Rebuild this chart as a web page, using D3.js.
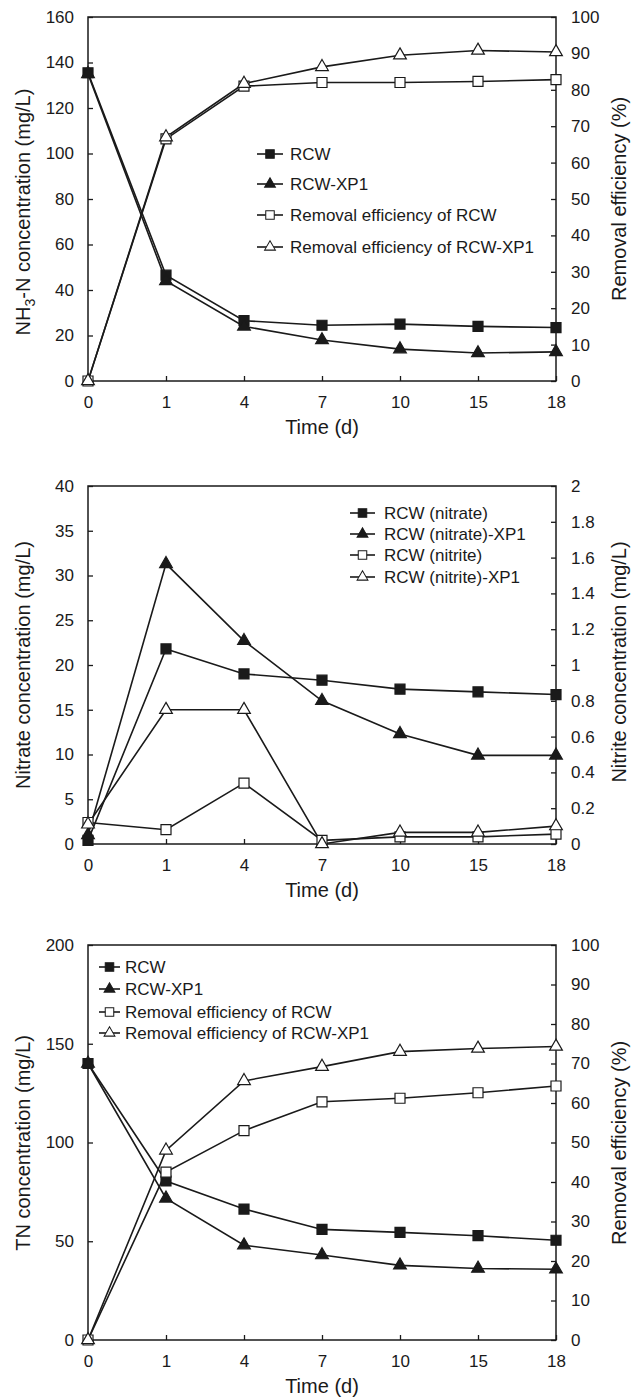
<!DOCTYPE html>
<html>
<head>
  <meta charset="UTF-8">
  <style>
    body { margin: 0; background: #fff; }
    svg text { font-family: "Liberation Sans", Arial, sans-serif; fill: #1a1a1a; }
  </style>
</head>
<body>
<svg></svg>
<script src="https://d3js.org/d3.v7.min.js"></script>
<script>
let width = 638,
    height = 1398;

let svg = d3.select("svg")
    .attr("width", width)
    .attr("height", height);

// sampling days (categorical, equally spaced)
let days = ["0", "1", "4", "7", "10", "15", "18"];

// panel 1: NH3-N
let nh3RCW = [135.5, 46.5, 26.5, 24.5, 25, 24, 23.5];
let nh3XP1 = [135, 44, 24, 18, 14, 12.3, 12.8];
let nh3EffRCW = [0, 66.5, 81, 82, 82, 82.3, 82.8];
let nh3EffXP1 = [0, 67, 81.7, 86.3, 89.5, 90.8, 90.4];

// panel 2: nitrate / nitrite
let nitrateRCW = [0.4, 21.8, 19, 18.3, 17.3, 17, 16.7];
let nitrateXP1 = [1, 31.3, 22.7, 16, 12.3, 9.9, 9.9];
let nitriteRCW = [0.12, 0.08, 0.34, 0.02, 0.04, 0.04, 0.055];
let nitriteXP1 = [0.11, 0.75, 0.75, 0, 0.065, 0.065, 0.1];

// panel 3: TN
let tnRCW = [140, 80.5, 66.3, 56, 54.5, 52.8, 50.5];
let tnXP1 = [140, 71.7, 48, 43, 37.8, 36.2, 35.8];
let tnEffRCW = [0, 42.5, 53, 60.3, 61.2, 62.6, 64.3];
let tnEffXP1 = [0, 48, 65.6, 69.2, 73, 73.8, 74.3];

// tick values
let nh3Ticks = d3.range(0, 161, 20);
let effTicks = d3.range(0, 101, 10);
let nitrateTicks = d3.range(0, 41, 5);
let nitriteTicks = d3.range(0, 2.01, 0.2).map(d => +d.toFixed(1));
let tnTicks = d3.range(0, 201, 50);

let ink = "#1a1a1a";
let fs = 17;      // ticks + legend
let titleFs = 20; // axis titles

function marker(type) {
  let sym = type.indexOf("square") >= 0 ? d3.symbolSquare : d3.symbolTriangle;
  let size = type.indexOf("square") >= 0 ? 100 : 70;
  return d3.symbol().type(sym).size(size)();
}

function drawPanel(p) {
  let g = svg.append("g");

  let x = d3.scalePoint().domain(days).range([88, 556]);
  let yL = d3.scaleLinear().domain(p.leftDomain).range([p.bottom, p.top]);
  let yR = d3.scaleLinear().domain(p.rightDomain).range([p.bottom, p.top]);

  // frame
  g.append("rect")
    .attr("x", 88).attr("y", p.top)
    .attr("width", 556 - 88).attr("height", p.bottom - p.top)
    .attr("fill", "none").attr("stroke", ink).attr("stroke-width", 1.5);

  let axisStyle = sel => {
    sel.select(".domain").remove();
    sel.selectAll("line").attr("stroke", ink).attr("stroke-width", 1.3);
    sel.selectAll("text").attr("font-size", fs).attr("fill", ink)
      .style("font-family", "'Liberation Sans', Arial, sans-serif");
  };

  g.append("g")
    .attr("transform", "translate(0," + p.bottom + ")")
    .call(d3.axisBottom(x).tickSizeInner(-5).tickSizeOuter(0).tickPadding(15))
    .call(axisStyle);

  g.append("g")
    .attr("transform", "translate(88,0)")
    .call(d3.axisLeft(yL).tickValues(p.leftTicks).tickSizeInner(-5).tickSizeOuter(0).tickPadding(14))
    .call(axisStyle);

  g.append("g")
    .attr("transform", "translate(556,0)")
    .call(d3.axisRight(yR).tickValues(p.rightTicks).tickFormat(d3.format("~g"))
      .tickSizeInner(-5).tickSizeOuter(0).tickPadding(15))
    .call(axisStyle);

  // axis titles
  g.append("text")
    .attr("x", 322).attr("y", p.bottom + 53)
    .attr("text-anchor", "middle").attr("font-size", titleFs)
    .text("Time (d)");

  let lt = g.append("text")
    .attr("transform", "translate(30," + p.leftTitleY + ") rotate(-90)")
    .attr("text-anchor", "middle").attr("font-size", titleFs);
  p.leftTitle.forEach(part => {
    let t = lt.append("tspan").text(part.t);
    if (part.sub) t.attr("font-size", 14).attr("dy", 5);
    else if (part.after) t.attr("dy", -5);
  });

  g.append("text")
    .attr("transform", "translate(626," + p.rightTitleY + ") rotate(-90)")
    .attr("text-anchor", "middle").attr("font-size", titleFs)
    .text(p.rightTitle);

  // series
  let line = sc => d3.line().x((d, i) => x(days[i])).y(d => sc(d));

  p.series.forEach(s => {
    let sc = s.axis === "right" ? yR : yL;
    g.append("path")
      .datum(s.values)
      .attr("fill", "none")
      .attr("stroke", ink)
      .attr("stroke-width", 1.6)
      .attr("d", line(sc));
  });

  p.series.forEach(s => {
    let sc = s.axis === "right" ? yR : yL;
    g.append("g").selectAll("path")
      .data(s.values)
      .enter()
      .append("path")
      .attr("d", marker(s.type))
      .attr("transform", (d, i) => "translate(" + x(days[i]) + "," + sc(d) + ")")
      .attr("fill", s.type.indexOf("open") >= 0 ? "#fff" : ink)
      .attr("stroke", ink)
      .attr("stroke-width", 1.2);
  });

  // legend
  let leg = g.append("g").selectAll("g")
    .data(p.series)
    .enter()
    .append("g")
    .attr("transform", (d, i) => "translate(" + p.legend.x + "," + p.legend.rows[i] + ")");

  leg.append("line")
    .attr("x1", 0).attr("x2", p.legend.len)
    .attr("stroke", ink).attr("stroke-width", 1.6);

  leg.append("path")
    .attr("d", d => marker(d.type))
    .attr("transform", "translate(" + p.legend.len / 2 + ",0) scale(0.85)")
    .attr("fill", d => d.type.indexOf("open") >= 0 ? "#fff" : ink)
    .attr("stroke", ink).attr("stroke-width", 1.2);

  leg.append("text")
    .attr("x", p.legend.len + p.legend.gap)
    .attr("dy", "0.35em")
    .attr("font-size", fs)
    .text(d => d.name);
}

drawPanel({
  top: 17, bottom: 381,
  leftDomain: [0, 160], rightDomain: [0, 100],
  leftTicks: nh3Ticks, rightTicks: effTicks,
  leftTitle: [{t: "NH"}, {t: "3", sub: true}, {t: "-N concentration (mg/L)", after: true}],
  leftTitleY: 212,
  rightTitle: "Removal efficiency (%)",
  rightTitleY: 199,
  series: [
    {name: "RCW", values: nh3RCW, axis: "left", type: "filled square"},
    {name: "RCW-XP1", values: nh3XP1, axis: "left", type: "filled triangle"},
    {name: "Removal efficiency of RCW", values: nh3EffRCW, axis: "right", type: "open square"},
    {name: "Removal efficiency of RCW-XP1", values: nh3EffXP1, axis: "right", type: "open triangle"}
  ],
  legend: {x: 257, len: 26, gap: 7, rows: [154, 184, 215, 247]}
});

drawPanel({
  top: 486, bottom: 844,
  leftDomain: [0, 40], rightDomain: [0, 2],
  leftTicks: nitrateTicks, rightTicks: nitriteTicks,
  leftTitle: [{t: "Nitrate concentration (mg/L)"}],
  leftTitleY: 665,
  rightTitle: "Nitrite concentration (mg/L)",
  rightTitleY: 662,
  series: [
    {name: "RCW (nitrate)", values: nitrateRCW, axis: "left", type: "filled square"},
    {name: "RCW (nitrate)-XP1", values: nitrateXP1, axis: "left", type: "filled triangle"},
    {name: "RCW (nitrite)", values: nitriteRCW, axis: "right", type: "open square"},
    {name: "RCW (nitrite)-XP1", values: nitriteXP1, axis: "right", type: "open triangle"}
  ],
  legend: {x: 350, len: 25, gap: 9, rows: [513, 534, 555, 577]}
});

drawPanel({
  top: 945, bottom: 1340,
  leftDomain: [0, 200], rightDomain: [0, 100],
  leftTicks: tnTicks, rightTicks: effTicks,
  leftTitle: [{t: "TN concentration (mg/L)"}],
  leftTitleY: 1143,
  rightTitle: "Removal efficiency (%)",
  rightTitleY: 1143,
  series: [
    {name: "RCW", values: tnRCW, axis: "left", type: "filled square"},
    {name: "RCW-XP1", values: tnXP1, axis: "left", type: "filled triangle"},
    {name: "Removal efficiency of RCW", values: tnEffRCW, axis: "right", type: "open square"},
    {name: "Removal efficiency of RCW-XP1", values: tnEffXP1, axis: "right", type: "open triangle"}
  ],
  legend: {x: 99, len: 21, gap: 5, rows: [967, 989, 1012, 1033]}
});
</script>
</body>
</html>
